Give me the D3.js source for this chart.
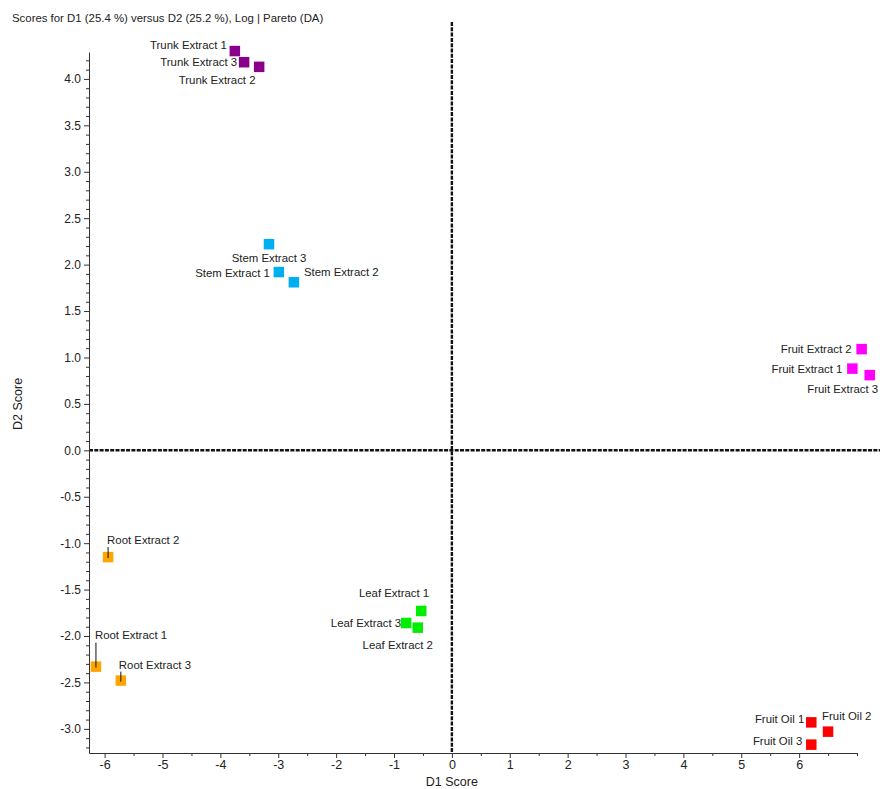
<!DOCTYPE html>
<html>
<head>
<meta charset="utf-8">
<script src="https://cdn.jsdelivr.net/npm/d3@7"></script>
<style>
  html, body { margin: 0; padding: 0; background: #fff; }
  svg { display: block; }
  text { font-family: "Liberation Sans", Arial, sans-serif; fill: #222; }
  .narrow { font-family: "Liberation Sans Narrow", "Arial Narrow", "Liberation Sans", sans-serif; }
</style>
</head>
<body>
<svg id="chart" width="885" height="789"></svg>
<script>
// Sample names, groups and D1/D2 discriminant scores
const samples = [
  "Trunk Extract 1", "Trunk Extract 3", "Trunk Extract 2",
  "Stem Extract 3", "Stem Extract 1", "Stem Extract 2",
  "Fruit Extract 2", "Fruit Extract 1", "Fruit Extract 3",
  "Root Extract 2", "Root Extract 1", "Root Extract 3",
  "Leaf Extract 1", "Leaf Extract 3", "Leaf Extract 2",
  "Fruit Oil 1", "Fruit Oil 2", "Fruit Oil 3"
];
const groups = [
  "Trunk", "Trunk", "Trunk",
  "Stem", "Stem", "Stem",
  "Fruit Extract", "Fruit Extract", "Fruit Extract",
  "Root", "Root", "Root",
  "Leaf", "Leaf", "Leaf",
  "Fruit Oil", "Fruit Oil", "Fruit Oil"
];
const d1Scores = [
  -3.75, -3.59, -3.33,
  -3.16, -2.99, -2.73,
   7.08,  6.92,  7.22,
  -5.94, -6.15, -5.72,
  -0.53, -0.79, -0.59,
   6.21,  6.50,  6.21
];
const d2Scores = [
   4.30,  4.18,  4.13,
   2.22,  1.92,  1.81,
   1.09,  0.88,  0.81,
  -1.15, -2.33, -2.48,
  -1.73, -1.86, -1.91,
  -2.93, -3.03, -3.17
];
const xTicks = [-6, -5, -4, -3, -2, -1, 0, 1, 2, 3, 4, 5, 6];
const yTicks = [-3.0, -2.5, -2.0, -1.5, -1.0, -0.5, 0.0, 0.5, 1.0, 1.5, 2.0, 2.5, 3.0, 3.5, 4.0];

const groupColors = {
  "Trunk": "#8b008b",
  "Stem": "#00aff0",
  "Fruit Extract": "#ff00ff",
  "Root": "#ffa500",
  "Leaf": "#00ee00",
  "Fruit Oil": "#ff0000"
};

// Label placement relative to each marker: [dx, dy, anchor, leader line length]
const labelPlacement = {
  "Trunk Extract 1": [-8, -6, "end", 0],
  "Trunk Extract 3": [-7, 0, "end", 0],
  "Trunk Extract 2": [-42, 13, "middle", 0],
  "Stem Extract 3": [0, 14, "middle", 0],
  "Stem Extract 1": [-9, 1, "end", 0],
  "Stem Extract 2": [10, -10, "start", 0],
  "Fruit Extract 2": [-10, 0, "end", 0],
  "Fruit Extract 1": [-10, 0, "end", 0],
  "Fruit Extract 3": [-27, 14, "middle", 0],
  "Root Extract 2": [-1, -17, "start", 10],
  "Root Extract 1": [-1, -32, "start", 24],
  "Root Extract 3": [-2, -16, "start", 9],
  "Leaf Extract 1": [8, -18, "end", 0],
  "Leaf Extract 3": [-5, 0, "end", 0],
  "Leaf Extract 2": [-20, 17, "middle", 0],
  "Fruit Oil 1": [-7, -3, "end", 0],
  "Fruit Oil 2": [-6, -16, "start", 0],
  "Fruit Oil 3": [-9, -4, "end", 0]
};

const svg = d3.select("#chart");
const plotLeft = 89, plotRight = 857, plotTop = 52, plotBottom = 753;
const labelFont = 11.4;

const x = d3.scaleLinear().domain([-6.27, 7.0]).range([plotLeft, plotRight]);
const y = d3.scaleLinear().domain([-3.26, 4.29]).range([plotBottom, plotTop]);

// Title
svg.append("text")
  .attr("x", 12).attr("y", 22)
  .attr("font-size", 11.4)
  .text("Scores for D1 (25.4 %) versus D2 (25.2 %), Log | Pareto (DA)");

// Zero reference lines
svg.append("line")
  .attr("x1", x(0)).attr("x2", x(0))
  .attr("y1", 22).attr("y2", plotBottom)
  .attr("stroke", "#111").attr("stroke-width", 2.4)
  .attr("stroke-dasharray", "4,1.3");
svg.append("line")
  .attr("x1", plotLeft).attr("x2", 880)
  .attr("y1", y(0)).attr("y2", y(0))
  .attr("stroke", "#111").attr("stroke-width", 2.4)
  .attr("stroke-dasharray", "4,1.3");

// X axis
const xMinor = d3.range(-6, 7.01, 0.5).filter(v => !xTicks.includes(v));
const xAxisG = svg.append("g").attr("transform", `translate(0,${plotBottom})`);
xAxisG.append("g")
  .call(d3.axisBottom(x).tickValues(xMinor).tickSize(3).tickFormat(""))
  .call(g => g.select(".domain").remove());
xAxisG.append("g")
  .call(d3.axisBottom(x).tickValues(xTicks).tickSize(5).tickSizeOuter(0)
    .tickFormat(d => String(d)))
  .call(g => g.select(".domain").attr("stroke", "#333"))
  .call(g => g.selectAll("text").attr("class", "narrow").attr("font-size", 12.5).attr("fill", "#222").attr("dy", "0.6em"));
xAxisG.selectAll("line").attr("stroke", "#333");

// Y axis
const yMinor = d3.range(-32, 43).map(v => v / 10).filter(v => Math.abs(v * 2 - Math.round(v * 2)) > 1e-6);
const yAxisG = svg.append("g").attr("transform", `translate(${plotLeft},0)`);
yAxisG.append("g")
  .call(d3.axisLeft(y).tickValues(yMinor).tickSize(3).tickFormat(""))
  .call(g => g.select(".domain").remove());
yAxisG.append("g")
  .call(d3.axisLeft(y).tickValues(yTicks).tickSize(5).tickSizeOuter(0)
    .tickFormat(d => d.toFixed(1)))
  .call(g => g.select(".domain").attr("stroke", "#333"))
  .call(g => g.selectAll("text").attr("font-size", 12).attr("fill", "#222").attr("x", -8));
yAxisG.selectAll("line").attr("stroke", "#333");

// Axis titles
svg.append("text")
  .attr("class", "narrow")
  .attr("x", x(0)).attr("y", 786)
  .attr("text-anchor", "middle")
  .attr("font-size", 12.5)
  .text("D1 Score");
svg.append("text")
  .attr("class", "narrow")
  .attr("transform", `translate(22,${y(0.5)}) rotate(-90)`)
  .attr("text-anchor", "middle")
  .attr("font-size", 12.5)
  .text("D2 Score");

// Points
const data = samples.map((name, i) => ({
  name, group: groups[i], d1: d1Scores[i], d2: d2Scores[i]
}));
const markerSize = 10.5;

svg.append("g").selectAll("rect")
  .data(data)
  .join("rect")
  .attr("x", d => x(d.d1) - markerSize / 2)
  .attr("y", d => y(d.d2) - markerSize / 2)
  .attr("width", markerSize).attr("height", markerSize)
  .attr("fill", d => groupColors[d.group]);

// Leader lines for the labels that sit away from their marker
svg.append("g").selectAll("line")
  .data(data.filter(d => labelPlacement[d.name][3] > 0))
  .join("line")
  .attr("x1", d => x(d.d1)).attr("x2", d => x(d.d1))
  .attr("y1", d => y(d.d2) + 1)
  .attr("y2", d => y(d.d2) - labelPlacement[d.name][3])
  .attr("stroke", "#111").attr("stroke-width", 1);

// Sample labels
svg.append("g").selectAll("text")
  .data(data)
  .join("text")
  .attr("x", d => x(d.d1) + labelPlacement[d.name][0])
  .attr("y", d => y(d.d2) + labelPlacement[d.name][1])
  .attr("dy", "0.35em")
  .attr("text-anchor", d => labelPlacement[d.name][2])
  .attr("font-size", labelFont)
  .text(d => d.name);
</script>
</body>
</html>
